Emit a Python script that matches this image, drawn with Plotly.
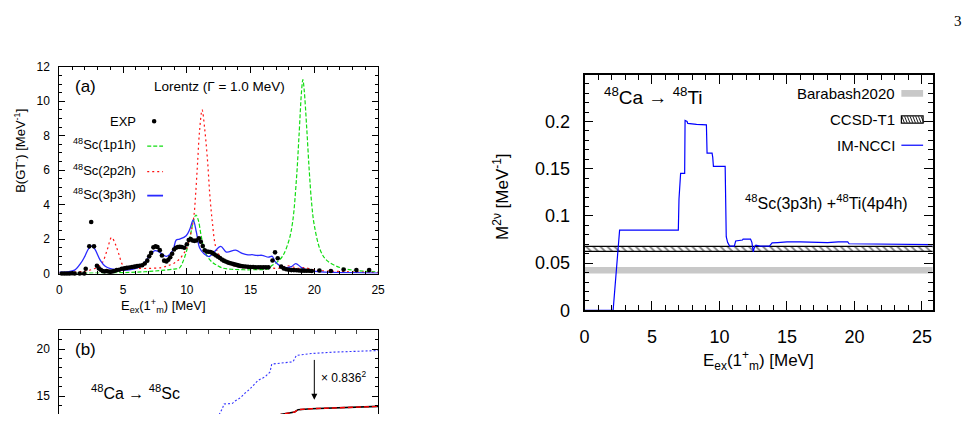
import plotly.graph_objects as go

W, H = 978, 424
FONT = "Liberation Sans"

# ---------------- Panel (a): Lorentz-smoothed B(GT-) ----------------
E_1p1h = [0, 2, 4, 6, 7, 8, 9, 9.43, 9.7, 10.0, 10.3, 10.5, 10.72, 10.9, 11.1, 11.3, 11.6, 12.0, 12.27, 12.8, 13.5, 14.5, 15.5, 16.4, 16.67, 17.0, 17.5,
          18.0, 18.3, 18.6, 18.8, 19.0, 19.1, 19.2, 19.4, 19.6, 19.8, 20.0, 20.5, 21.0, 22.0, 23.0, 24.0, 25.0]
B_1p1h = [0.02, 0.03, 0.04, 0.08, 0.12, 0.18, 0.26, 0.33, 0.7, 1.36, 2.3, 3.0, 3.4, 3.1, 2.3, 1.6, 1.0, 0.65, 0.52, 0.32, 0.25, 0.22, 0.23, 0.28, 0.47, 0.62, 1.0,
          1.9, 3.0, 5.5, 8.0, 10.6, 11.26, 10.7, 8.5, 6.0, 4.0, 2.8, 1.3, 0.75, 0.35, 0.2, 0.13, 0.1]

E_2p2h = [0, 1, 2, 2.5, 3.0, 3.36, 3.75, 4.1, 4.4, 4.65, 5.04, 5.5, 6, 7, 8, 8.5, 9.0, 9.5, 10.0, 10.33, 10.55, 10.7, 10.85, 11.0, 11.2, 11.4,
          11.63, 11.8, 12.0, 12.27, 12.6, 13.0, 13.5, 14.0, 15.0, 16.0, 16.5, 17.0, 17.5, 17.8, 18.2, 18.7, 19.2, 20.0, 21.0, 22.0, 23.0, 24.0, 25.0]
B_2p2h = [0.04, 0.07, 0.14, 0.22, 0.38, 0.61, 1.36, 2.1, 1.7, 1.17, 0.43, 0.33, 0.3, 0.3, 0.35, 0.45, 0.6, 0.9, 1.5, 2.38, 3.3, 4.7, 6.5, 8.3, 9.5, 8.4,
          6.5, 4.6, 3.0, 1.54, 1.0, 0.7, 0.5, 0.4, 0.3, 0.3, 0.33, 0.3, 0.35, 0.45, 0.42, 0.3, 0.35, 0.2, 0.15, 0.12, 0.1, 0.08, 0.06]

E_3p3h = [0, 0.65, 1.2, 1.68, 2.0, 2.3, 2.55, 2.8, 3.23, 3.6, 4.0, 4.5, 5.0, 5.5, 6.0, 6.5, 7.0, 7.5, 7.9, 8.4, 8.9, 9.17, 9.43, 9.95, 10.25, 10.5,
          10.75, 11.0, 11.35, 11.76, 12.2, 12.66, 13.1, 13.82, 14.34, 14.8, 15.12, 15.5, 15.9, 16.4, 16.7, 16.9, 17.3, 17.8, 18.2, 18.55, 18.9,
          19.2, 19.8, 20.5, 21.5, 23.0, 25.0]
B_3p3h = [0.08, 0.1, 0.2, 0.6, 1.0, 1.45, 1.6, 1.4, 0.75, 0.42, 0.28, 0.22, 0.2, 0.22, 0.3, 0.5, 0.95, 1.33, 1.22, 1.0, 1.35, 1.95, 2.0, 2.2, 2.6, 3.12,
          2.4, 1.5, 1.15, 0.99, 1.3, 1.58, 1.25, 1.36, 1.17, 1.08, 1.1, 1.05, 1.06, 0.95, 1.0, 0.72, 0.45, 0.35, 0.4, 0.58, 0.4,
          0.26, 0.16, 0.1, 0.07, 0.05, 0.03]

E_exp = [0.2, 0.4, 0.6, 0.8, 1.0, 1.2, 1.6, 1.95, 2.07, 2.35, 2.5, 2.72, 2.95, 3.1, 3.25, 3.4, 3.55, 3.7, 3.85, 4.0, 4.15, 4.3, 4.5, 4.7, 4.9,
         5.1, 5.3, 5.5, 5.7, 5.9, 6.1, 6.3, 6.5, 6.7, 6.9, 7.05, 7.2, 7.38, 7.55, 7.7, 7.88, 8.05, 8.22, 8.4, 8.55, 8.7, 8.85, 9.0, 9.15,
         9.3, 9.45, 9.6, 9.8, 10.0, 10.15, 10.3, 10.45, 10.6, 10.75, 10.95, 11.1, 11.25, 11.4, 11.55, 11.7, 11.85, 12.0, 12.15, 12.3,
         12.45, 12.6, 12.75, 12.9, 13.05, 13.2, 13.35, 13.5, 13.65, 13.8, 13.95, 14.1, 14.25, 14.4, 14.6, 14.8, 15.0, 15.2, 15.4, 15.6,
         15.8, 16.0, 16.2, 16.4, 16.72, 16.92, 17.13, 17.4, 17.6, 17.8, 18.0, 18.2, 18.4, 18.6, 18.8, 19.0, 19.2, 19.4, 19.6, 19.8,
         20.4, 21.3, 22.3, 23.3, 24.3]
B_exp = [0.0, 0.0, 0.0, 0.0, 0.02, 0.0, 0.0, 0.0, 0.28, 1.58, 2.99, 1.58, 0.45, 0.3, 0.22, 0.15, 0.12, 0.15, 0.12, 0.1, 0.12, 0.15, 0.2, 0.22, 0.28,
         0.3, 0.33, 0.35, 0.38, 0.4, 0.43, 0.45, 0.48, 0.58, 0.75, 1.0, 1.2, 1.52, 1.58, 1.54, 1.36, 1.05, 0.75, 0.7, 0.8, 0.95, 1.15, 1.4, 1.5,
         1.54, 1.55, 1.54, 1.5, 1.7, 1.95, 2.0, 1.92, 1.9, 1.92, 2.05, 1.85, 1.6, 1.35, 1.28, 1.27, 1.25, 1.2, 1.12, 1.05,
         0.98, 0.9, 0.82, 0.75, 0.7, 0.65, 0.61, 0.58, 0.55, 0.52, 0.49, 0.46, 0.44, 0.42, 0.41, 0.39, 0.38, 0.38, 0.37, 0.37,
         0.37, 0.36, 0.36, 0.36, 0.76, 1.23, 0.89, 0.4, 0.3, 0.25, 0.22, 0.2, 0.2, 0.19, 0.18, 0.17, 0.17, 0.16, 0.16, 0.15,
         0.18, 0.15, 0.24, 0.2, 0.2]

# ---------------- Panel (b): running sums (partially visible) ----------------
E_sum_unq = [15.03, 15.34, 15.5, 16.27, 16.58, 17.04, 17.5, 17.97, 18.43, 18.75, 19.36, 19.83, 19.99, 20.61, 22.0, 22.31, 23.7, 25.87, 30.0]
S_sum_unq = [13.0, 13.65, 14.16, 14.2, 14.5, 14.82, 15.33, 15.78, 16.35, 16.7, 17.04, 17.55, 18.4, 18.47, 18.64, 19.32, 19.52, 19.67, 19.84]
E_sum_q = [20.5, 20.92, 22.15, 22.47, 23.7, 25.87, 30.0]
S_sum_q = [12.9, 13.06, 13.3, 13.55, 13.65, 13.75, 13.9]
arrow_E = 24.0
arrow_from, arrow_to = 19.0, 14.6

# ---------------- Right panel: running M2v ----------------
E_m2v = [0, 2.12, 2.6, 6.95, 7.0, 7.07, 7.12, 7.42, 7.45, 7.6, 7.65, 8.3, 9.03, 9.08, 9.45, 9.5, 9.55, 10.42, 10.5, 10.6, 10.75, 11.1,
         11.2, 11.7, 11.75, 12.3, 12.4, 12.5, 12.6, 12.7, 13.0, 13.7, 13.9, 14.3, 15.0, 16.0, 17.0, 18.0, 18.8, 19.5, 19.6, 21.0, 23.0, 25.8]
M_m2v = [0, 0, 0.085, 0.085, 0.118, 0.142, 0.145, 0.145, 0.201, 0.2, 0.198, 0.197, 0.1965, 0.1665, 0.1665, 0.162, 0.1525, 0.1525, 0.078, 0.072,
         0.068, 0.068, 0.0735, 0.0745, 0.0755, 0.0755, 0.072, 0.062, 0.0675, 0.069, 0.068, 0.068, 0.0715, 0.0718, 0.0725, 0.0725, 0.0718,
         0.0718, 0.0725, 0.0725, 0.0705, 0.0702, 0.0698, 0.0695]
band_E = [0, 25.8]
barabash_lo, barabash_hi = 0.039, 0.046
ccsd_lo, ccsd_hi = 0.0625, 0.0677

fig = go.Figure()

# panel (a)
fig.add_trace(go.Scatter(x=E_1p1h, y=B_1p1h, xaxis="x", yaxis="y", mode="lines", line_shape="spline",
                         line=dict(color="#11dd11", width=1.2, dash="4px,2px"), showlegend=False))
fig.add_trace(go.Scatter(x=E_2p2h, y=B_2p2h, xaxis="x", yaxis="y", mode="lines", line_shape="spline",
                         line=dict(color="#ff1111", width=1.2, dash="2px,3px"), showlegend=False))
fig.add_trace(go.Scatter(x=E_3p3h, y=B_3p3h, xaxis="x", yaxis="y", mode="lines", line_shape="spline",
                         line=dict(color="#2a2aff", width=1.3), showlegend=False))
fig.add_trace(go.Scatter(x=E_exp, y=B_exp, xaxis="x", yaxis="y", mode="markers",
                         marker=dict(color="black", size=4.6), showlegend=False, cliponaxis=False))

# panel (b)
fig.add_trace(go.Scatter(x=E_sum_unq, y=S_sum_unq, xaxis="x2", yaxis="y2", mode="lines",
                         line=dict(color="#3333ff", width=1.1, dash="2px,2px"), showlegend=False))
fig.add_trace(go.Scatter(x=E_sum_q, y=S_sum_q, xaxis="x2", yaxis="y2", mode="lines",
                         line=dict(color="black", width=1.6), showlegend=False))
fig.add_trace(go.Scatter(x=E_sum_q, y=S_sum_q, xaxis="x2", yaxis="y2", mode="lines",
                         line=dict(color="#ff0000", width=1.4, dash="5px,3px"), showlegend=False))

# right panel bands
bx = [band_E[0], band_E[1], band_E[1], band_E[0], band_E[0]]
fig.add_trace(go.Scatter(x=bx, y=[barabash_lo, barabash_lo, barabash_hi, barabash_hi, barabash_lo],
                         xaxis="x3", yaxis="y3", mode="lines", fill="toself", fillcolor="#c8c8c8",
                         line=dict(width=0, color="#c8c8c8"), showlegend=False))
fig.add_trace(go.Scatter(x=bx, y=[ccsd_lo, ccsd_lo, ccsd_hi, ccsd_hi, ccsd_lo],
                         xaxis="x3", yaxis="y3", mode="lines", fill="toself", fillcolor="white",
                         fillpattern=dict(shape="\\", size=5, solidity=0.35, fgcolor="black", bgcolor="white"),
                         line=dict(width=0, color="black"), showlegend=False))
for v in (ccsd_lo, ccsd_hi):
    fig.add_trace(go.Scatter(x=band_E, y=[v, v], xaxis="x3", yaxis="y3", mode="lines",
                             line=dict(color="black", width=1.2), showlegend=False))
fig.add_trace(go.Scatter(x=E_m2v, y=M_m2v, xaxis="x3", yaxis="y3", mode="lines",
                         line=dict(color="#0000ff", width=1.2), showlegend=False))


def axstyle(lw, tl, mtl, fs, standoff):
    return dict(showline=True, linecolor="black", linewidth=lw, mirror="ticks", ticks="inside",
                ticklen=tl, tickwidth=1, tickcolor="black", showgrid=False, zeroline=False,
                tickfont=dict(family=FONT, size=fs, color="black"), ticklabelstandoff=standoff,
                minor=dict(ticks="inside", ticklen=mtl, tickwidth=1, tickcolor="black", showgrid=False))


xa = axstyle(1, 6, 3, 12, 5)
xa.update(domain=[55 / W, 377.7 / W], range=[0, 25], dtick=5, tick0=0, anchor="y")
xa["minor"].update(dtick=1)
ya = axstyle(1, 6, 3, 12, 6)
ya.update(domain=[1 - 277.7 / H, 1 - 62.3 / H], range=[0, 12], dtick=2, tick0=0, anchor="x")
ya["minor"].update(dtick=0.5)

xb = dict(domain=[55 / W, 377.7 / W], range=[0, 30], anchor="y2", side="top", showline=True, linecolor="black",
          linewidth=1, mirror=False, ticks="inside", ticklen=4, tickwidth=1, dtick=2, tick0=0,
          showticklabels=False, showgrid=False, zeroline=False)
yb = axstyle(1, 6, 3, 12, 6)
yb.update(domain=[0, 1 - 336.7 / H], range=[13.09, 22], dtick=5, tick0=0, anchor="x2")
yb["minor"].update(dtick=1)

xc = axstyle(1.8, 9, 5, 18, 9)
xc.update(domain=[586.7 / W, 939.3 / W], range=[0, 25.8], dtick=5, tick0=0, anchor="y3")
xc["minor"].update(dtick=1)
yc = axstyle(1.8, 9, 5, 18, 9)
yc.update(domain=[1 - 316 / H, 1 - 71 / H], range=[0, 0.2491], dtick=0.05, tick0=0, anchor="x3")
yc["minor"].update(dtick=0.01)

annotations = []


def ann(text, x, y, size, xanchor="center", yanchor="middle", angle=0, family=FONT):
    annotations.append(dict(text=text, x=x / W, y=1 - y / H, xref="paper", yref="paper", showarrow=False,
                            xanchor=xanchor, yanchor=yanchor, textangle=angle,
                            font=dict(family=family, size=size, color="black")))


# panel (a) texts
ann("(a)", 81, 83, 17)
ann("Lorentz (Γ = 1.0 MeV)", 217.5, 83, 13.5)
ann("EXP", 135, 119, 13, xanchor="right")
ann("<sup>48</sup>Sc(1p1h)", 135, 143, 13, xanchor="right")
ann("<sup>48</sup>Sc(2p2h)", 135, 169.5, 13, xanchor="right")
ann("<sup>48</sup>Sc(3p3h)", 135, 194.5, 13, xanchor="right")
ann("B(GT<sup>-</sup>) [MeV<sup>-1</sup>]", 15, 150, 13, angle=-90)
ann("E<sub>ex</sub>(1<sup>+</sup><sub>m</sub>) [MeV]", 160, 311, 13)

# panel (b) texts
ann("(b)", 81, 357, 17)
ann("<sup>48</sup>Ca → <sup>48</sup>Sc", 132, 401, 16)
ann("× 0.836<sup>2</sup>", 318, 385, 12, xanchor="left")
annotations.append(dict(x=arrow_E, y=arrow_to, ax=arrow_E, ay=arrow_from, xref="x2", yref="y2",
                        axref="x2", ayref="y2", text="", showarrow=True, arrowhead=2, arrowsize=1.2,
                        arrowwidth=1, arrowcolor="black"))

# right panel texts
ann("<sup>48</sup>Ca → <sup>48</sup>Ti", 657, 93, 19)
ann("<sup>48</sup>Sc(3p3h) +<sup>48</sup>Ti(4p4h)", 832, 203, 16)
ann("Barabash2020", 903, 90, 15, xanchor="right")
ann("CCSD-T1", 903, 117, 15, xanchor="right")
ann("IM-NCCI", 903, 144, 15, xanchor="right")
ann("M<sup>2ν</sup> [MeV<sup>-1</sup>]", 502, 198, 17, angle=-90)
ann("E<sub>ex</sub>(1<sup>+</sup><sub>m</sub>) [MeV]", 763, 368, 17)

# page number
ann("3", 965, 15, 15, family="Liberation Serif")

shapes = []


def pline(x0, x1, y, color, width, dash="solid"):
    shapes.append(dict(type="line", xref="paper", yref="paper", x0=x0 / W, x1=x1 / W, y0=1 - y / H, y1=1 - y / H,
                       line=dict(color=color, width=width, dash=dash)))


# panel (a) legend samples
shapes.append(dict(type="circle", xref="paper", yref="paper", x0=148.7 / W, x1=153.3 / W, y0=1 - 121.3 / H,
                   y1=1 - 116.7 / H, fillcolor="black", line=dict(width=0)))
pline(144, 160, 145, "#11dd11", 1.2, "4px,2px")
pline(144, 160, 171.5, "#ff1111", 1.2, "2px,3px")
pline(144, 160, 196.5, "#2a2aff", 1.8)

# right panel legend samples
shapes.append(dict(type="rect", xref="paper", yref="paper", x0=907.5 / W, x1=929.5 / W, y0=1 - 93.5 / H,
                   y1=1 - 86.5 / H, fillcolor="#c8c8c8", line=dict(width=0)))
shapes.append(dict(type="rect", xref="paper", yref="paper", x0=907.5 / W, x1=929.5 / W, y0=1 - 121 / H,
                   y1=1 - 113.5 / H, fillcolor="white", line=dict(width=1.2, color="black")))
for i in range(8):
    xs = 908 + i * 2.8
    shapes.append(dict(type="line", xref="paper", yref="paper", x0=xs / W, x1=(xs + 2.5) / W,
                       y0=1 - 114 / H, y1=1 - 120.5 / H, line=dict(color="black", width=0.9)))
pline(907.5, 929.5, 144, "#0000ff", 1.2)

fig.update_layout(width=W, height=H, margin=dict(l=0, r=0, t=0, b=0), paper_bgcolor="white",
                  plot_bgcolor="white", showlegend=False,
                  xaxis=xa, yaxis=ya, xaxis2=xb, yaxis2=yb, xaxis3=xc, yaxis3=yc,
                  annotations=annotations, shapes=shapes)

fig.write_html("out.html")
